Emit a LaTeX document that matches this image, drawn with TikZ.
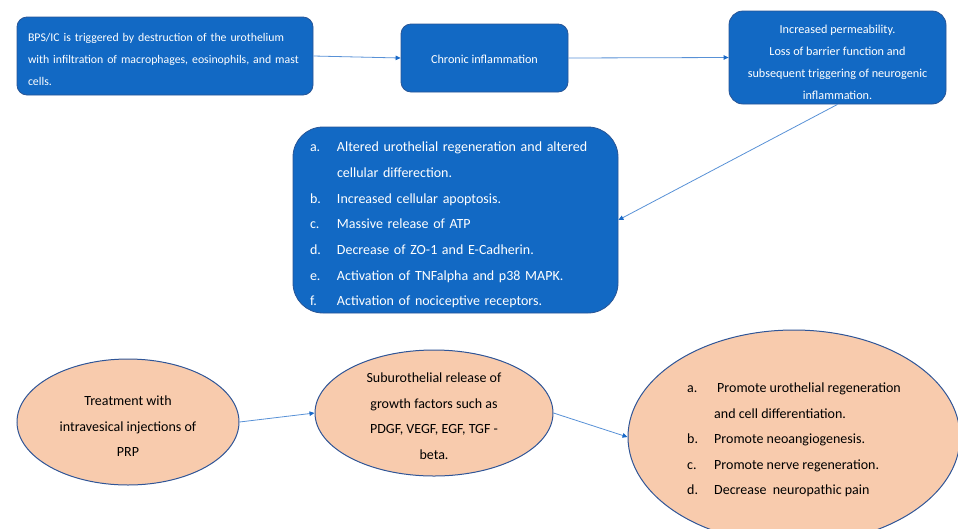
\documentclass[tikz,border=0pt]{standalone}
\usepackage{fontspec}
\setmainfont{Carlito}
\usetikzlibrary{shapes.geometric,arrows.meta}
\definecolor{boxblue}{RGB}{18,105,196}
\definecolor{boxedge}{RGB}{40,85,150}
\definecolor{peach}{RGB}{248,203,173}
\definecolor{elledge}{RGB}{47,85,151}
\definecolor{arrowblue}{RGB}{88,145,214}
\definecolor{tipblue}{RGB}{25,105,200}
\tikzset{
  bluebox/.style={draw=boxedge, fill=boxblue, line width=0.8pt, inner sep=0pt},
  peachell/.style={ellipse, draw=elledge, fill=peach, line width=1pt, inner sep=0pt},
  wtext/.style={text=white, inner sep=0pt},
  btext/.style={text=black, inner sep=0pt, align=center, font=\fontsize{14}{25.5}\selectfont},
  conn/.style={draw=arrowblue, line width=0.8pt, -{Triangle[length=5pt,width=4.5pt,color=tipblue,fill=tipblue]}},
}
\newcommand{\lbl}[1]{\makebox[27pt][l]{#1}}
\begin{document}
\begin{tikzpicture}[x=1pt,y=-1pt]
\useasboundingbox (0,0) rectangle (958,528);
% top row shapes
\node[bluebox, rounded corners=10pt, minimum width=296pt, minimum height=78pt] (b1) at (165,56) {};
\node[bluebox, rounded corners=10pt, minimum width=167pt, minimum height=68pt] (b2) at (484.5,58) {};
\node[bluebox, rounded corners=14pt, minimum width=217pt, minimum height=93pt] (b3) at (837.5,57.5) {};
\node[bluebox, rounded corners=30pt, minimum width=325pt, minimum height=186pt] (b4) at (455.5,220) {};
% top row texts
\node[wtext, text width=274pt, align=left, font=\fontsize{11.8}{22}\selectfont] (t1) at (165,59)
  {\mbox{BPS/IC is triggered by destruction of the urothelium}\\
   \mbox{with infiltration of macrophages, eosinophils, and mast}\\
   cells.};
\node[wtext, font=\fontsize{12.2}{22}\selectfont] (t2) at (484.5,59) {Chronic inflammation};
\node[wtext, align=center, font=\fontsize{12.2}{22}\selectfont] (t3) at (837.5,62)
  {Increased permeability.\\
   Loss of barrier function and\\
   subsequent triggering of neurogenic\\
   inflammation.};
\node[wtext, text width=291pt, align=left, font=\fontsize{14}{25.7}\selectfont] (t4) at (455.5,225)
  {\lbl{a.}\mbox{Altered urothelial regeneration and altered}\\
   \hspace*{27pt}cellular differection.\\
   \lbl{b.}Increased cellular apoptosis.\\
   \lbl{c.}Massive release of ATP\\
   \lbl{d.}Decrease of ZO-1 and E-Cadherin.\\
   \lbl{e.}Activation of TNFalpha and p38 MAPK.\\
   \lbl{f.}Activation of nociceptive receptors.};
% bottom row shapes
\node[peachell, minimum width=222pt, minimum height=126pt] (e1) at (128,422) {};
\node[peachell, minimum width=238pt, minimum height=126pt] (e2) at (434,413) {};
\node[peachell, minimum width=332pt, minimum height=214pt] (e3) at (794,437) {};
% bottom row texts
\node[btext] (u1) at (128,426.5)
  {Treatment with\\ intravesical injections of\\ PRP};
\node[btext] (u2) at (434,416)
  {Suburothelial release of\\ growth factors such as\\ PDGF, VEGF, EGF, TGF -\\ beta.};
\node[btext, align=left] (u3) at (794,440)
  {\lbl{a.}\hspace{3pt}Promote urothelial regeneration\\
   \hspace*{27pt}and cell differentiation.\\
   \lbl{b.}Promote neoangiogenesis.\\
   \lbl{c.}Promote nerve regeneration.\\
   \lbl{d.}Decrease\ \ neuropathic pain};
% connectors
\draw[conn] (b1.east) -- (b2.west);
\draw[conn] (b2.east) -- (b3.west);
\draw[conn] (b3.south) -- (b4.east);
\draw[conn] (e1.east) -- (e2.west);
\draw[conn] (e2.east) -- (e3.west);
\end{tikzpicture}
\end{document}
